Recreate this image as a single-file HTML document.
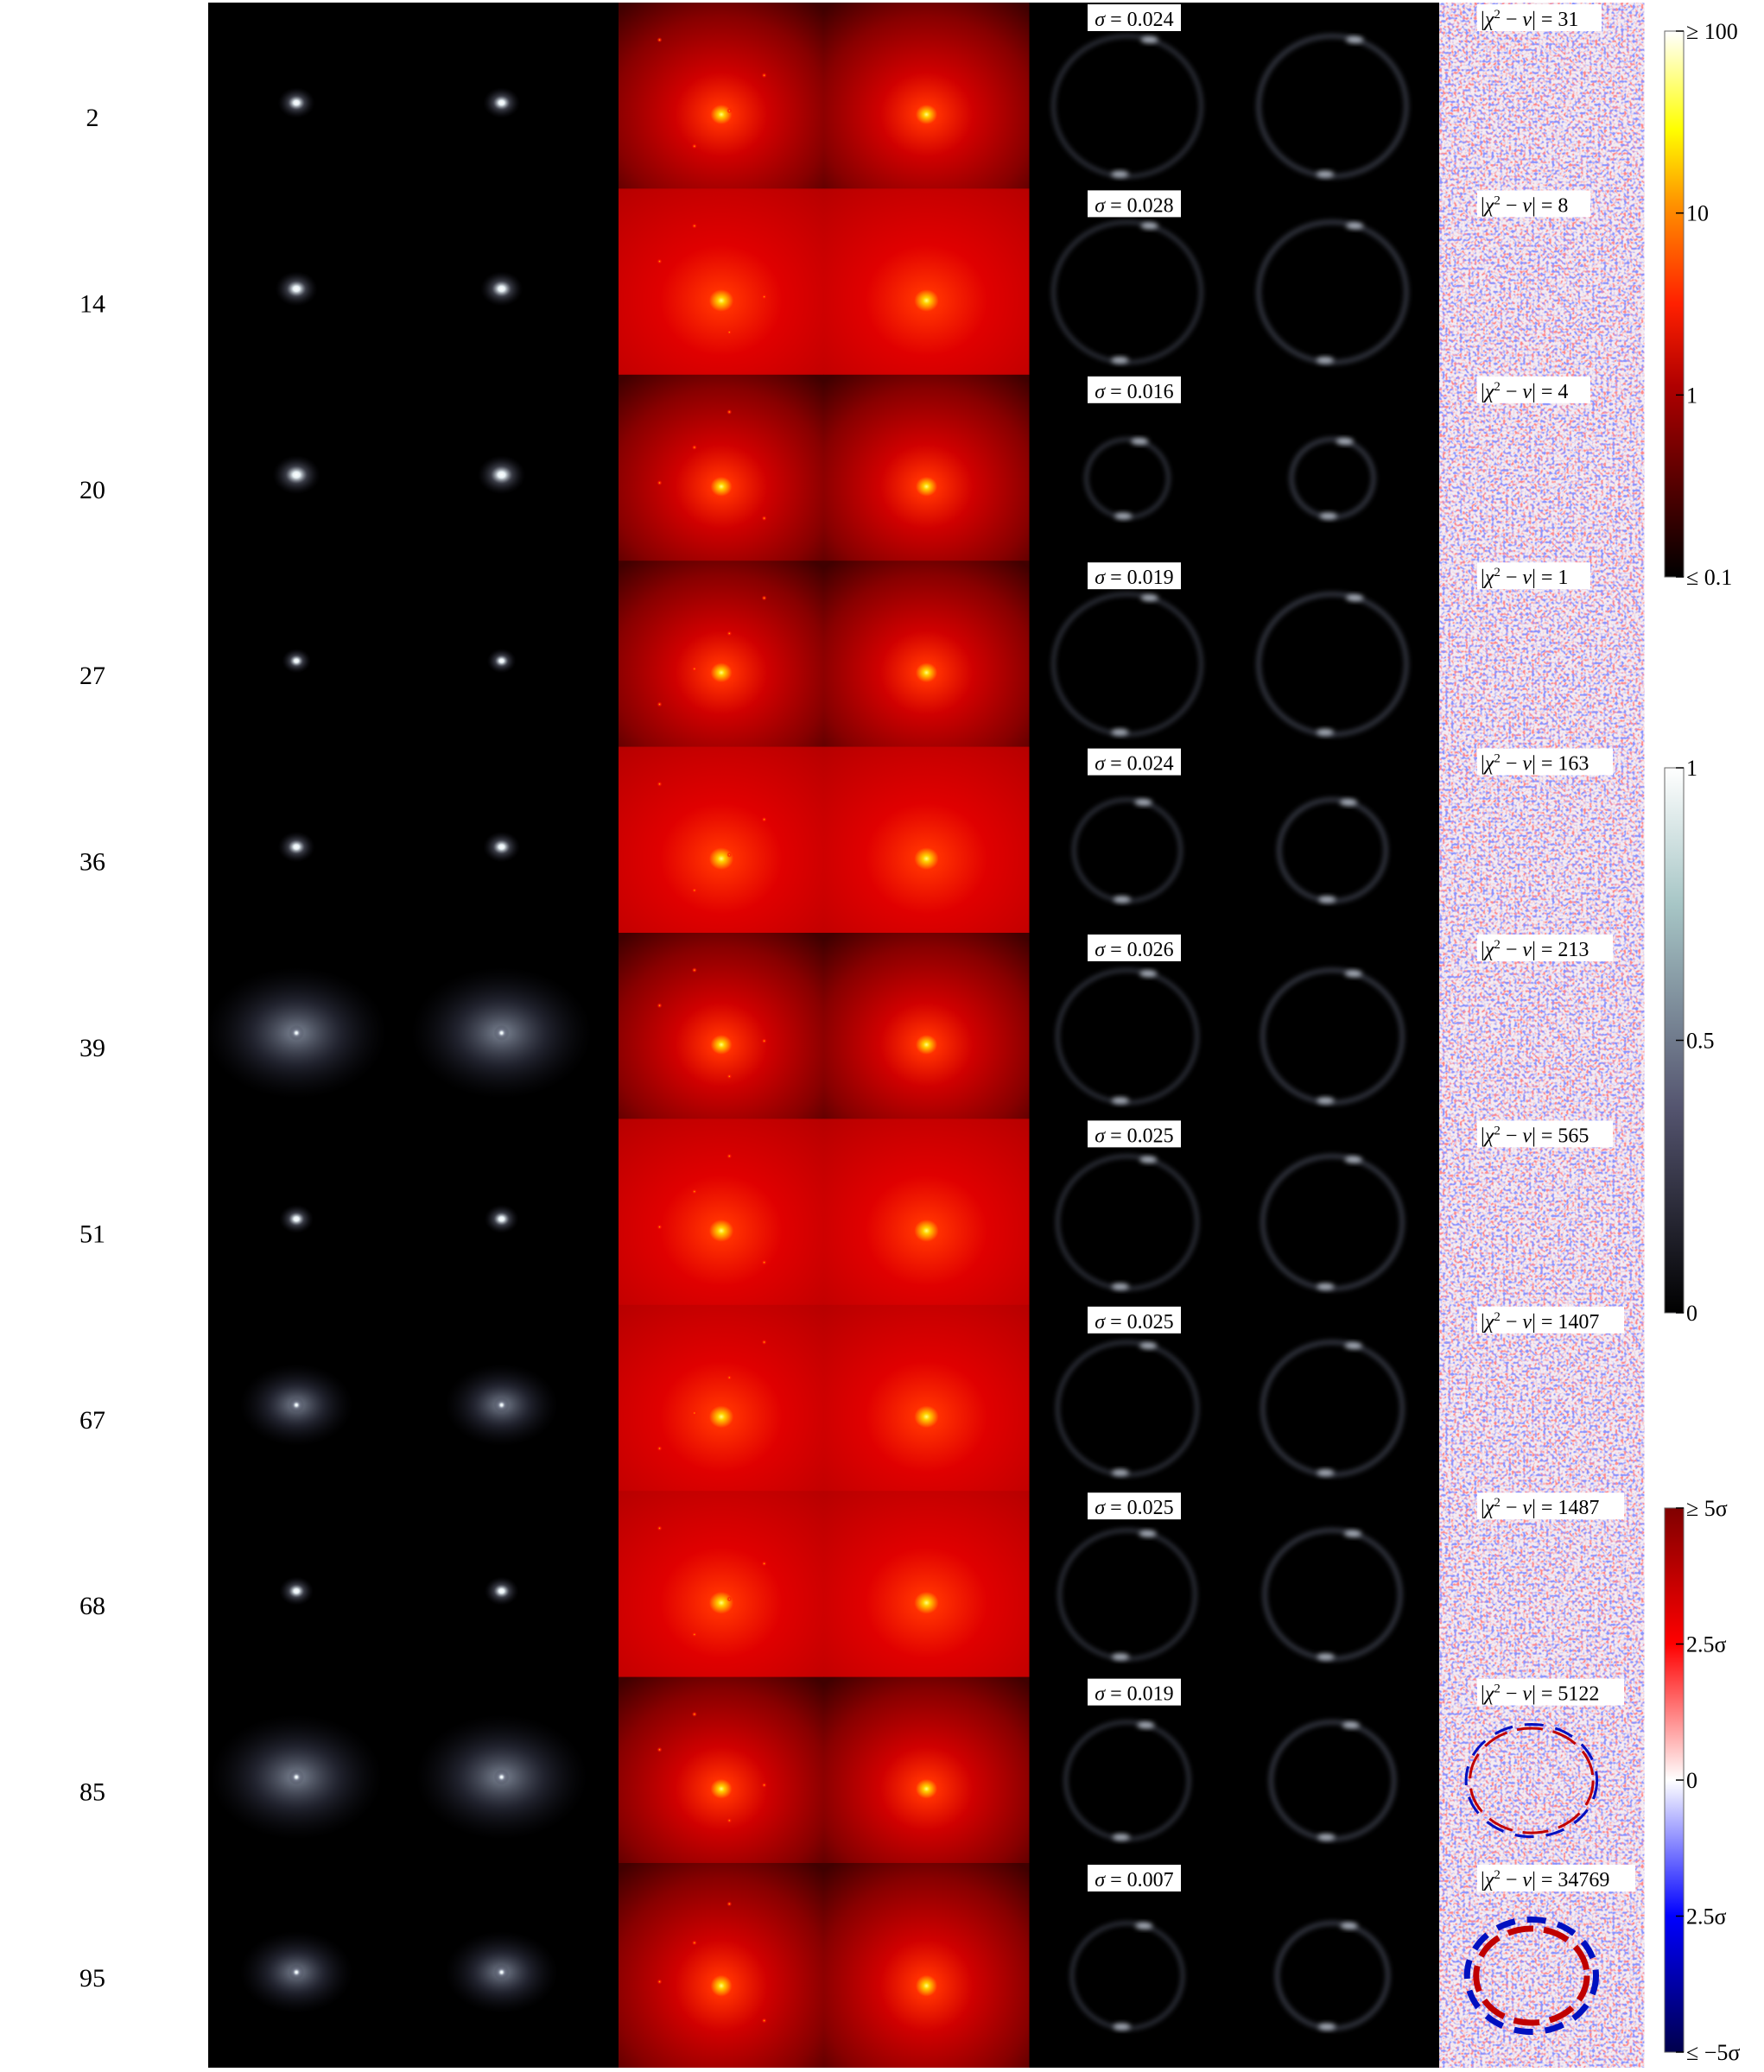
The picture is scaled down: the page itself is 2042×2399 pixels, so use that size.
<!DOCTYPE html>
<html><head><meta charset="utf-8"><style>
html,body{margin:0;padding:0;background:#fff;}
svg{display:block;}
text{font-family:"Liberation Serif","DejaVu Serif",serif;}
</style></head><body>
<svg id="fig" width="2042" height="2399" viewBox="0 0 2042 2399" xmlns="http://www.w3.org/2000/svg">
<defs>
<clipPath id="clipSrc"><rect x="241" y="3" width="475" height="2391"/></clipPath>
<clipPath id="clipLens"><rect x="1191" y="3" width="475" height="2391"/></clipPath>
<radialGradient id="gSrc"><stop offset="0" stop-color="#ffffff"/><stop offset="0.15" stop-color="#e6f0f4"/><stop offset="0.45" stop-color="#707488" stop-opacity="0.5"/><stop offset="1" stop-color="#202030" stop-opacity="0"/></radialGradient>
<radialGradient id="gExt"><stop offset="0" stop-color="#a8b4c8" stop-opacity="0.75"/><stop offset="0.5" stop-color="#505470" stop-opacity="0.4"/><stop offset="1" stop-color="#202030" stop-opacity="0"/></radialGradient>
<radialGradient id="gMass" cx="0.5" cy="0.6" r="0.75"><stop offset="0" stop-color="#ffff80"/><stop offset="0.02" stop-color="#ffd000"/><stop offset="0.07" stop-color="#ff3000"/><stop offset="0.3" stop-color="#d00000"/><stop offset="0.7" stop-color="#880000"/><stop offset="1" stop-color="#400000"/></radialGradient>
<radialGradient id="gMassB" cx="0.5" cy="0.6" r="0.85"><stop offset="0" stop-color="#ffff80"/><stop offset="0.02" stop-color="#ffd000"/><stop offset="0.07" stop-color="#ff3000"/><stop offset="0.35" stop-color="#e00000"/><stop offset="1" stop-color="#b00000"/></radialGradient>
<radialGradient id="gSub"><stop offset="0" stop-color="#ffe000"/><stop offset="0.3" stop-color="#ff3000"/><stop offset="1" stop-color="#ff0000" stop-opacity="0"/></radialGradient>
<linearGradient id="cbHeat" x1="0" y1="1" x2="0" y2="0"><stop offset="0" stop-color="#000"/><stop offset="0.35" stop-color="#b00000"/><stop offset="0.5" stop-color="#ff2000"/><stop offset="0.68" stop-color="#ff9000"/><stop offset="0.82" stop-color="#ffff00"/><stop offset="1" stop-color="#ffffff"/></linearGradient>
<linearGradient id="cbBone" x1="0" y1="1" x2="0" y2="0"><stop offset="0" stop-color="#000"/><stop offset="0.375" stop-color="#54546f"/><stop offset="0.75" stop-color="#a7c6c6"/><stop offset="1" stop-color="#fff"/></linearGradient>
<linearGradient id="cbSeis" x1="0" y1="1" x2="0" y2="0"><stop offset="0" stop-color="#00004c"/><stop offset="0.25" stop-color="#0000ff"/><stop offset="0.5" stop-color="#ffffff"/><stop offset="0.75" stop-color="#ff0000"/><stop offset="1" stop-color="#800000"/></linearGradient>
<filter id="blur3" x="-50%" y="-50%" width="200%" height="200%"><feGaussianBlur stdDeviation="3"/></filter>
<filter id="noise" x="0" y="0" width="100%" height="100%">
<feTurbulence type="fractalNoise" baseFrequency="0.3" numOctaves="1" seed="3" result="t"/>
<feColorMatrix in="t" type="matrix" values="0 0 0 0 1  0 0 0 0 0.25  0 0 0 0 0.25  5 0 0 0 -2.45" result="r"/>
<feColorMatrix in="t" type="matrix" values="0 0 0 0 0.25  0 0 0 0 0.3  0 0 0 0 1  0 5 0 0 -2.45" result="b"/>
<feFlood flood-color="#f4ecf2" result="w"/>
<feMerge><feMergeNode in="w"/><feMergeNode in="r"/><feMergeNode in="b"/></feMerge>
</filter>
</defs>
<g id="layer"></g>
</svg>
<script>
// ---- data ----
const rowIds = [2,14,20,27,36,39,51,67,68,85,95];
const sigmaVals = ["0.024","0.028","0.016","0.019","0.024","0.026","0.025","0.025","0.025","0.019","0.007"];
const chiVals = [31,8,4,1,163,213,565,1407,1487,5122,34769];
const srcSize = [0.05,0.06,0.07,0.035,0.05,0.4,0.045,0.25,0.045,0.38,0.25];
const ringR = [0.36,0.36,0.2,0.36,0.26,0.34,0.34,0.34,0.33,0.3,0.27];
const massBright = [0,1,0,0,1,0,1,1,1,0,0];
const heatTicks = ["\u2265 100","10","1","\u2264 0.1"];
const boneTicks = ["1","0.5","0"];
const seisTicks = ["\u2265 5\u03c3","2.5\u03c3","0","2.5\u03c3","\u2264 \u22125\u03c3"];

const NS = "http://www.w3.org/2000/svg";
const L = document.getElementById('layer');
function mk(tag, attrs, parent){const e=document.createElementNS(NS,tag);for(const k in attrs)e.setAttribute(k,attrs[k]);(parent||L).appendChild(e);return e;}
const X0=241, CW=237.5, Y0=3, RH=215.4;
function colX(c){return X0+c*CW;}
function rowY(r){return r<10?Y0+r*RH:2157;}
function rowH(r){return r<10?RH+0.5:237;}

let bg=mk('rect',{x:X0,y:Y0,width:colX(6)-X0,height:2394-Y0,fill:'#000'});



let nz=mk('rect',{x:colX(6),y:Y0,width:CW,height:2394-Y0,filter:'url(#noise)'});



const srcLayer=mk('g',{'clip-path':'url(#clipSrc)'});


const lensLayer=mk('g',{'clip-path':'url(#clipLens)'});



rowIds.forEach((id,r)=>{
  const y=rowY(r), h=rowH(r), cy=y+h/2;
  const g=mk('g',{});
  
  
  const t=mk('text',{x:107,y:y+143,'font-size':30,'text-anchor':'middle',fill:'#000'},g);
  
  
  t.textContent=id;
  for(let c=0;c<2;c++){
    const cx=colX(c)+CW*0.43;
    const s=srcSize[r]*CW;
    const ext=srcSize[r]>0.2;
    const e=mk('ellipse',{cx:cx,cy:cy+8,rx:ext?s*1.1:s*1.3+6,ry:ext?s*0.8:s+6,fill: ext?'url(#gExt)':'url(#gSrc)'},srcLayer);
    
    
    if(ext){mk('circle',{cx:cx,cy:cy+8,r:9,fill:'url(#gSrc)'},srcLayer);}
  }
  for(let c=2;c<4;c++){
    const m=mk('rect',{x:colX(c),y:y,width:CW+0.5,height:h,fill:massBright[r]?'url(#gMassB)':'url(#gMass)'},g);
    
    
    if(c==2){
      for(let k=0;k<4;k++){mk('circle',{cx:colX(c)+CW*(0.2+0.17*k),cy:y+h*(0.2+0.19*((k*7+r)%4)),r:3,fill:'url(#gSub)'},g);}
    }
  }
  for(let c=4;c<6;c++){
    const cx=colX(c)+CW*0.48;
    const rr=ringR[r]*CW;
    const ring=mk('ellipse',{cx:cx,cy:cy+12,rx:rr,ry:rr*0.95,fill:'none',stroke:'#7a8098','stroke-width':c==4?4:5,'stroke-opacity':0.45,filter:'url(#blur3)'},lensLayer);
    
    
    mk('ellipse',{cx:cx+rr*0.3,cy:cy+12-rr*0.9,rx:10,ry:4,fill:'#c8d0dc','fill-opacity':0.8,filter:'url(#blur3)'},lensLayer);
    mk('ellipse',{cx:cx-rr*0.1,cy:cy+12+rr*0.92,rx:10,ry:4,fill:'#c8d0dc','fill-opacity':0.8,filter:'url(#blur3)'},lensLayer);
  }
  if(chiVals[r]>3000){
    const cx=colX(6)+CW*0.45, rr=ringR[r]*CW, sw=chiVals[r]>10000?7:3;
    mk('ellipse',{cx:cx,cy:cy+12,rx:rr,ry:rr*0.85,fill:'none',stroke:'#c00000','stroke-width':sw,'stroke-dasharray':'30 12'},g);
    mk('ellipse',{cx:cx,cy:cy+12,rx:rr+sw*1.5,ry:rr*0.85+sw*1.5,fill:'none',stroke:'#0010c0','stroke-width':sw,'stroke-dasharray':'22 14'},g);
  }
  const sb=mk('g',{},g);
  
  
  mk('rect',{x:1259,y:y+2,width:108,height:31,fill:'#fff'},sb);
  const st=mk('text',{x:1313,y:y+27,'font-size':24,'text-anchor':'middle',fill:'#000'},sb);
  st.innerHTML='<tspan font-style="italic">\u03c3</tspan> = '+sigmaVals[r];
  const cb=mk('g',{},g);
  
  
  const w=118+String(chiVals[r]).length*13;
  mk('rect',{x:1710,y:y+2,width:w,height:31,fill:'#fff'},cb);
  const ct=mk('text',{x:1714,y:y+27,'font-size':24,fill:'#000'},cb);
  ct.innerHTML='|<tspan font-style="italic">\u03c7</tspan><tspan font-size="15" dy="-9">2</tspan><tspan dy="9"> \u2212 </tspan><tspan font-style="italic">\u03bd</tspan>| = '+chiVals[r];
});

function cbar(name,grad,y1,y2,ticks){
  const g=mk('g',{});
  
  
  mk('rect',{x:1927,y:y1,width:22,height:y2-y1,fill:'url(#'+grad+')',stroke:'#666','stroke-width':1},g);
  ticks.forEach((tk,i)=>{
    const ty=y1+(y2-y1)*i/(ticks.length-1);
    mk('line',{x1:1940,y1:ty,x2:1949,y2:ty,stroke:'#000','stroke-width':1.5},g);
    const t=mk('text',{x:1952,y:ty+9,'font-size':26,fill:'#000'},g);
    t.textContent=tk;
  });
}
cbar('colorbar-mass','cbHeat',36,668,heatTicks);
cbar('colorbar-brightness','cbBone',889,1520,boneTicks);
cbar('colorbar-residual','cbSeis',1746,2376,seisTicks);
</script>
</body></html>
